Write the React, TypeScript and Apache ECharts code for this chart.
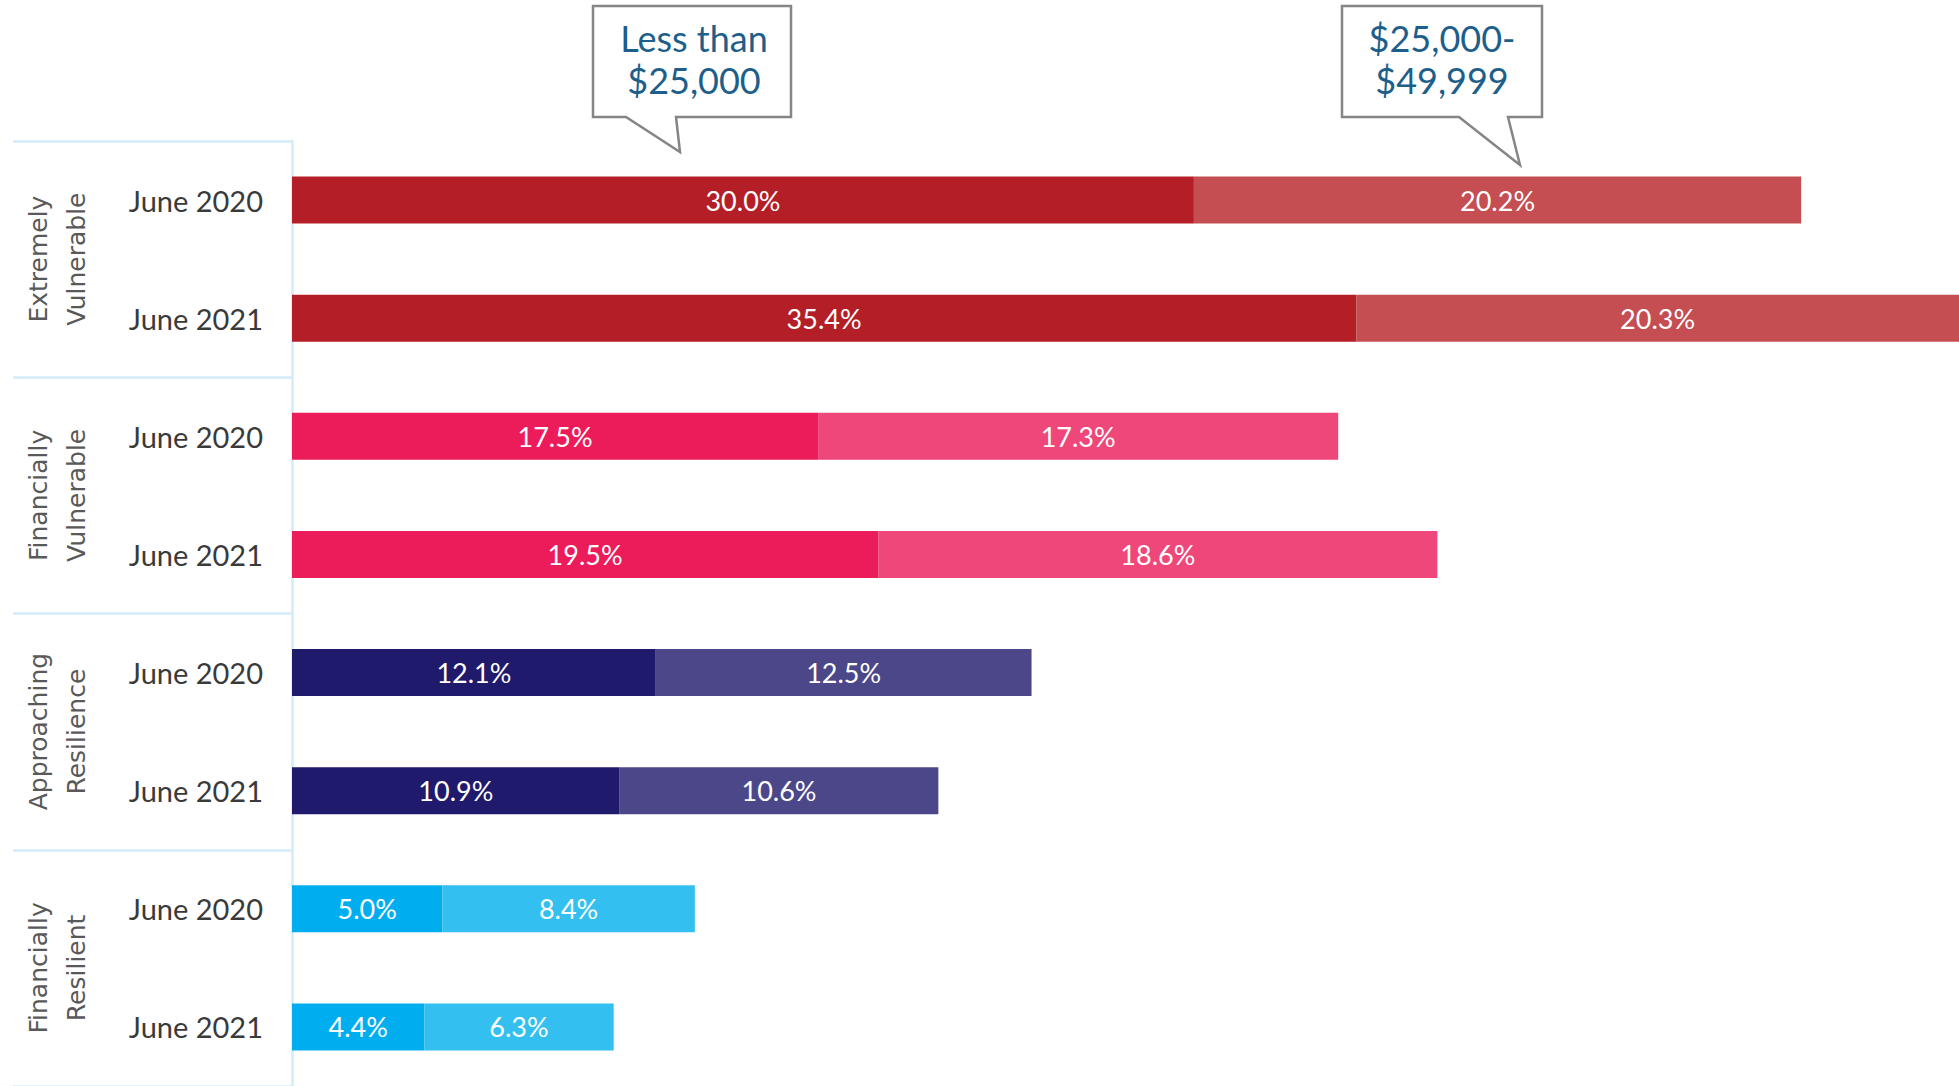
import React, { useEffect, useRef } from "react";
import * as echarts from "echarts";

const groups = ["Extremely\nVulnerable", "Financially\nVulnerable", "Approaching\nResilience", "Financially\nResilient"];
const periods = ["June 2020", "June 2021"];
const lessThan25k = [30.0, 35.4, 17.5, 19.5, 12.1, 10.9, 5.0, 4.4];
const from25kTo50k = [20.2, 20.3, 17.3, 18.6, 12.5, 10.6, 8.4, 6.3];
const darkColors = ["#B41F27", "#EC1B5A", "#1F1A6B", "#00AEEF"];
const lightColors = ["#C44E52", "#EF4779", "#4C4788", "#33BFEF"];
const calloutLabels = ["Less than\n$25,000", "$25,000-\n$49,999"];

export default function App() {
  const ref = useRef<HTMLDivElement>(null);
  useEffect(() => {
    if (!ref.current) return;
    const chart = echarts.init(ref.current, undefined, { renderer: "svg" });
    const categories: string[] = [];
    groups.forEach((g, gi) => periods.forEach((p) => categories.push(gi + "|" + p)));
    const mkData = (vals: number[], colors: string[]) =>
      vals.map((v, i) => ({ value: v, itemStyle: { color: colors[Math.floor(i / 2)] } }));
    const labelStyle = {
      show: true,
      position: "inside",
      color: "#ffffff",
      fontSize: 27,
      fontFamily: "Lato",
      formatter: (p: any) => Number(p.value).toFixed(1) + "%",
    };
    const callout = (pts: number[][], text: string, cx: number) => [
      {
        type: "polygon",
        shape: { points: pts },
        style: { fill: "#ffffff", stroke: "#858585", lineWidth: 2.5 },
        z: 10,
      },
      {
        type: "text",
        x: cx,
        y: 59,
        style: {
          text,
          fill: "#1D5F8A",
          font: "36px Lato",
          align: "center",
          verticalAlign: "middle",
          lineHeight: 42,
        },
        z: 11,
      },
    ];
    chart.setOption({
      animation: false,
      grid: { left: 292, right: 0, top: 141, height: 947, containLabel: false },
      xAxis: {
        type: "value",
        min: 0,
        max: 55.45,
        show: false,
      },
      yAxis: [
        {
          type: "category",
          inverse: true,
          data: categories,
          axisLine: { show: true, lineStyle: { color: "#D3ECF8", width: 2.5 } },
          axisTick: { show: false },
          axisLabel: {
            formatter: (v: string) => v.split("|")[1],
            fontSize: 29,
            fontFamily: "Lato",
            color: "#3A3A3A",
            margin: 29,
          },
        },
        {
          type: "category",
          inverse: true,
          position: "left",
          data: groups,
          axisLine: { show: false },
          axisTick: { show: true, length: 279, lineStyle: { color: "#D3ECF8", width: 2.5 } },
          axisLabel: {
            show: true,
            rotate: 90,
            margin: 235,
            align: "center",
            verticalAlign: "middle",
            fontSize: 25,
            lineHeight: 38,
            fontFamily: "DejaVu Sans",
            color: "#595959",
          },
        },
      ],
      series: [
        {
          type: "bar",
          stack: "total",
          barWidth: 47,
          data: mkData(lessThan25k, darkColors),
          label: labelStyle,
        },
        {
          type: "bar",
          stack: "total",
          barWidth: 47,
          data: mkData(from25kTo50k, lightColors),
          label: labelStyle,
        },
      ],
      graphic: [
        ...callout(
          [[593, 6], [791, 6], [791, 117], [676, 117], [680, 152], [626, 117], [593, 117]],
          calloutLabels[0],
          694
        ),
        ...callout(
          [[1342, 6], [1542, 6], [1542, 117], [1508, 117], [1520, 165], [1459, 117], [1342, 117]],
          calloutLabels[1],
          1442
        ),
      ],
    });
    return () => chart.dispose();
  }, []);
  return (
    <div
      ref={ref}
      style={{ position: "absolute", left: 0, top: 0, width: 1959, height: 1086 }}
    />
  );
}
